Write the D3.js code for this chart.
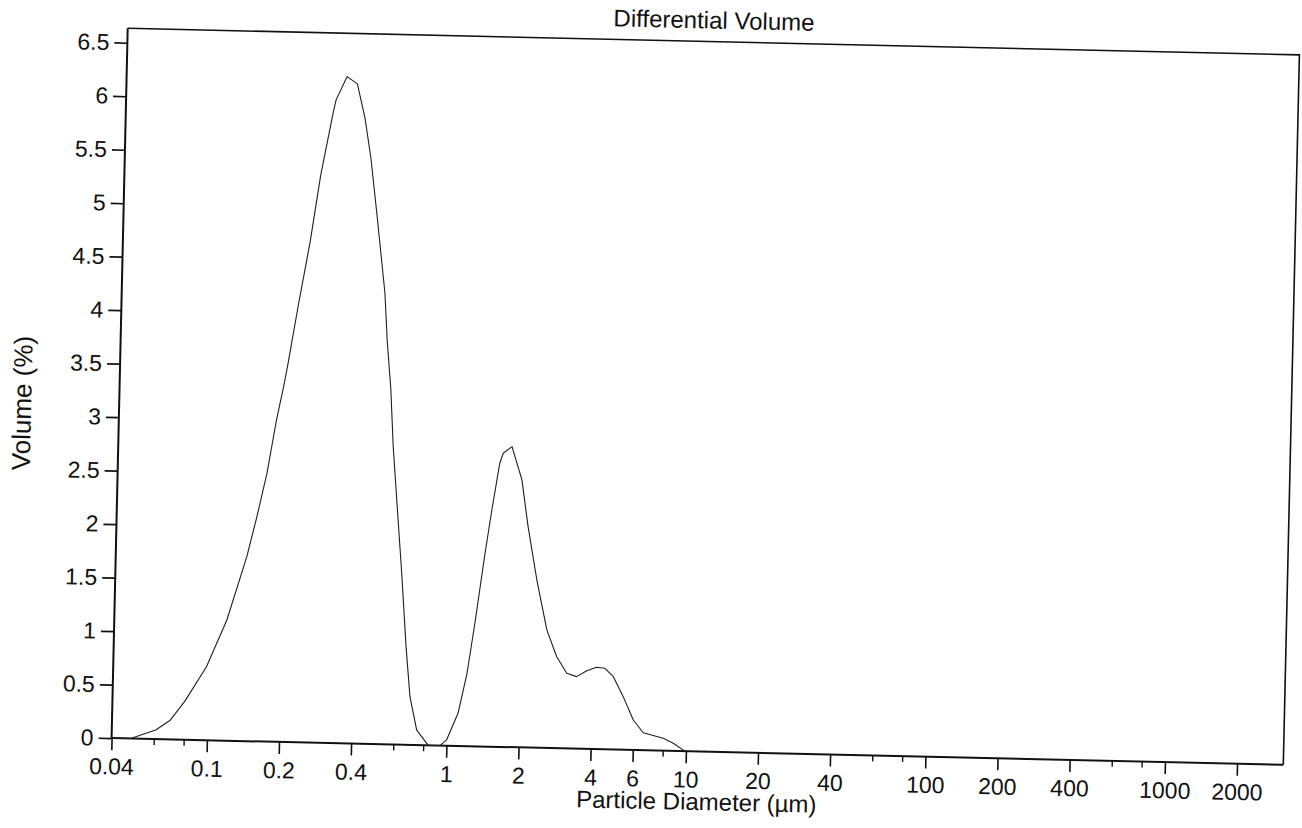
<!DOCTYPE html>
<html>
<head>
<meta charset="utf-8">
<script src="https://cdn.jsdelivr.net/npm/d3@7"></script>
<style>
  html, body { margin: 0; padding: 0; background: #ffffff; }
  svg { display: block; }
  text { font-family: "Liberation Sans", Arial, sans-serif; fill: #111; }
</style>
</head>
<body>
<svg id="chart" width="1302" height="828"></svg>
<script>
// ---- data ----
const diameter = [0.04, 0.048, 0.061, 0.070, 0.080, 0.098, 0.118, 0.141, 0.154, 0.168,
  0.182, 0.193, 0.201, 0.219, 0.242, 0.264, 0.294, 0.301, 0.333, 0.368,
  0.399, 0.426, 0.459, 0.502, 0.518, 0.542, 0.562, 0.595, 0.627, 0.664,
  0.697, 0.749, 0.84, 0.94, 1.00, 1.11, 1.20, 1.28, 1.39, 1.47,
  1.57, 1.62, 1.76, 1.95, 2.09, 2.30, 2.56, 2.83, 3.13, 3.44,
  3.79, 4.16, 4.51, 4.90, 5.41, 5.99, 6.61, 8.02, 8.84, 9.9];
const volume = [0, 0, 0.085, 0.18, 0.356, 0.687, 1.128, 1.724, 2.10, 2.507,
  3.007, 3.305, 3.54, 4.086, 4.68, 5.306, 5.90, 6.01, 6.23, 6.164,
  5.845, 5.472, 4.913, 4.214, 3.778, 3.328, 2.783, 2.161, 1.60, 0.917,
  0.45, 0.14, 0, 0, 0.054, 0.305, 0.681, 1.15, 1.806, 2.212,
  2.65, 2.744, 2.808, 2.499, 2.064, 1.567, 1.103, 0.855, 0.702, 0.673,
  0.731, 0.765, 0.757, 0.68, 0.496, 0.28, 0.163, 0.115, 0.071, 0];
const yTicks = [0, 0.5, 1, 1.5, 2, 2.5, 3, 3.5, 4, 4.5, 5, 5.5, 6, 6.5];
const xMajorTicks = [0.04, 0.1, 0.2, 0.4, 1, 2, 4, 6, 10, 20, 40, 100, 200, 400, 1000, 2000];
const xMinorTicks = [0.06, 0.08, 0.6, 0.8, 8, 60, 80, 600, 800];
const xDomain = [0.04, 3120];
const titleText = "Differential Volume";
const xLabel = "Particle Diameter (\u00b5m)";
const yLabel = "Volume (%)";

// ---- layout ----
const W = 1172, H = 710;
const svg = d3.select("#chart");
const g = svg.append("g").attr("transform", "translate(127.7,28.3) rotate(1.3)");

const x = d3.scaleLog().domain(xDomain).range([0, W]);
const y = d3.scaleLinear().domain([0, 6.5]).range([H, 14.4]);

// frame (top and right)
g.append("path")
  .attr("d", `M0,0 L${W},0 L${W},${H}`)
  .attr("fill", "none").attr("stroke", "#111").attr("stroke-width", 1.6);

// y axis
const yAxis = g.append("g")
  .call(d3.axisLeft(y).tickValues(yTicks).tickSize(13).tickSizeOuter(0).tickPadding(5)
    .tickFormat(d => String(d)));
yAxis.select(".domain").attr("d", `M0,0 V${H}`).attr("stroke", "#111").attr("stroke-width", 2);
yAxis.selectAll(".tick line").attr("stroke", "#111").attr("stroke-width", 1.6);
yAxis.selectAll(".tick text").style("font-size", "23px").attr("fill", "#111");

// x axis (major)
const xAxis = g.append("g").attr("transform", `translate(0,${H})`)
  .call(d3.axisBottom(x).tickValues(xMajorTicks).tickSize(12).tickSizeOuter(0).tickPadding(8)
    .tickFormat(d => String(d)));
xAxis.select(".domain").attr("d", `M0,0 H${W}`).attr("stroke", "#111").attr("stroke-width", 2);
xAxis.selectAll(".tick line").attr("stroke", "#111").attr("stroke-width", 1.6);
xAxis.selectAll(".tick text").style("font-size", "23px").attr("fill", "#111");

// x axis (minor)
const xMinor = g.append("g").attr("transform", `translate(0,${H})`)
  .call(d3.axisBottom(x).tickValues(xMinorTicks).tickSize(6).tickSizeOuter(0).tickFormat(""));
xMinor.select(".domain").remove();
xMinor.selectAll(".tick line").attr("stroke", "#111").attr("stroke-width", 1.4);

// curve
const pts = diameter.map((d, i) => [d, volume[i]]);
const line = d3.line().x(d => x(d[0])).y(d => y(d[1]));
g.append("path").datum(pts)
  .attr("d", line)
  .attr("fill", "none").attr("stroke", "#1e1e1e").attr("stroke-width", 1.1)
  .attr("stroke-linejoin", "round");

// title
g.append("text").attr("x", W / 2).attr("y", -13)
  .attr("text-anchor", "middle").style("font-size", "24px").text(titleText);

// x label
g.append("text").attr("x", W / 2).attr("y", H + 58.6)
  .attr("text-anchor", "middle").style("font-size", "24px").text(xLabel);

// y label
g.append("text")
  .attr("transform", `translate(-88,377) rotate(-90)`)
  .attr("text-anchor", "middle").style("font-size", "26px").text(yLabel);
</script>
</body>
</html>
